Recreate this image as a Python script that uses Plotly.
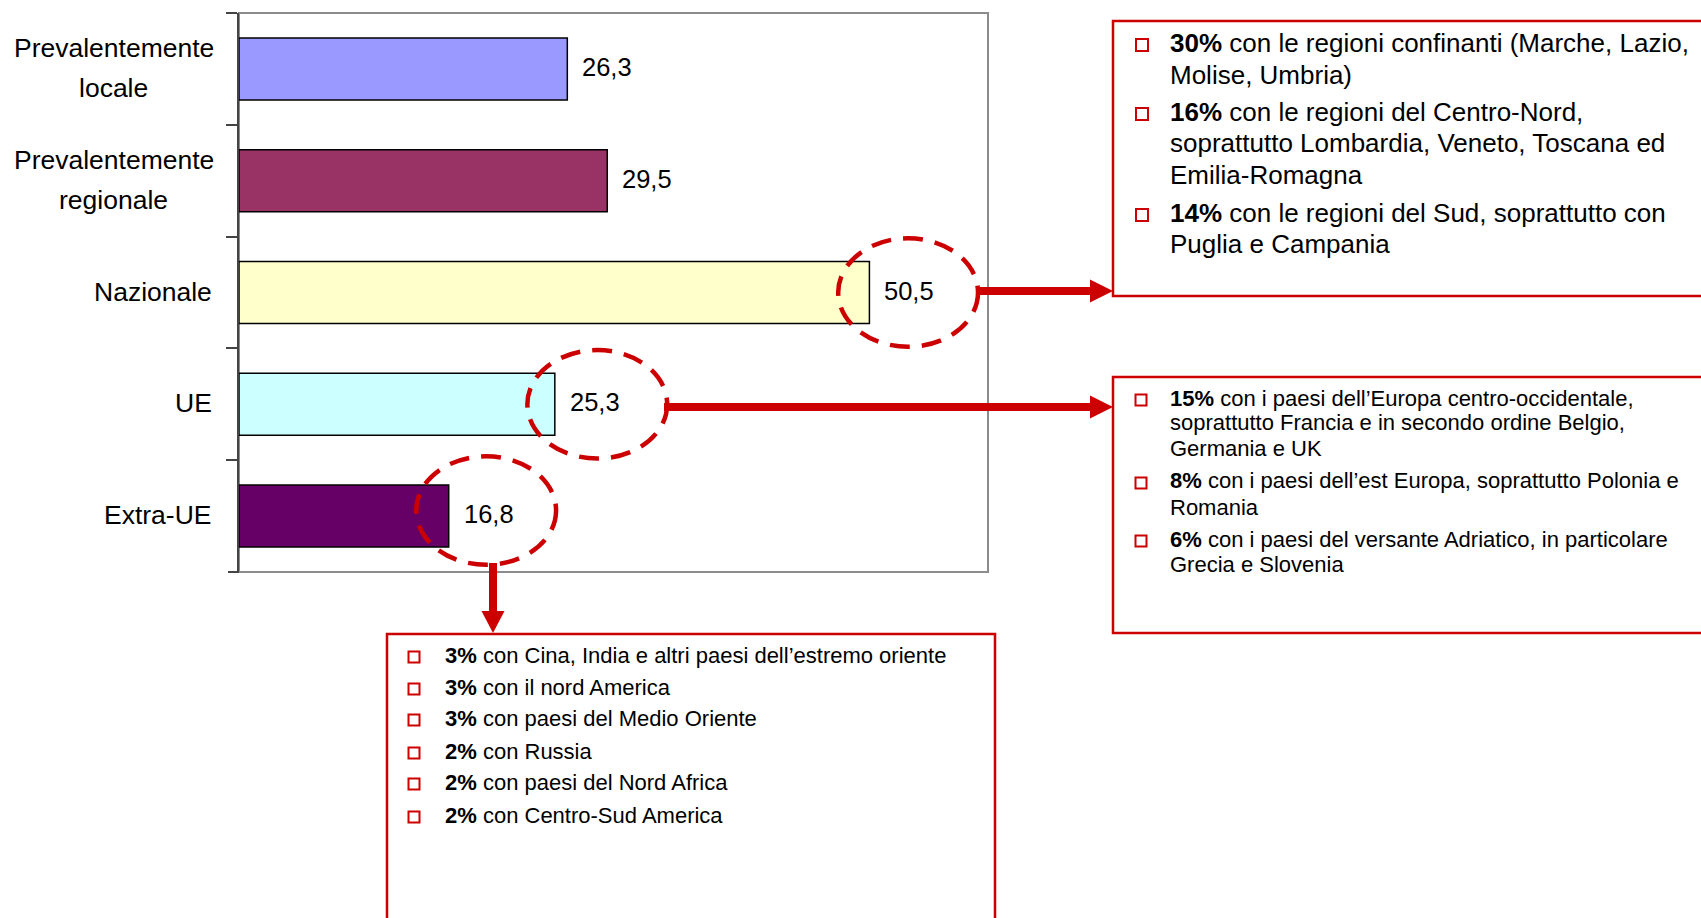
import plotly.graph_objects as go

# ---------------- data ----------------
categories = ["Prevalentemente<br>locale", "Prevalentemente<br>regionale", "Nazionale", "UE", "Extra-UE"]
values = [26.3, 29.5, 50.5, 25.3, 16.8]
bar_colors = ["#9999FF", "#993366", "#FFFFCC", "#CCFFFF", "#660066"]

box_nazionale = [
    ["<b>30%</b> con le regioni confinanti (Marche, Lazio,", "Molise, Umbria)"],
    ["<b>16%</b> con le regioni del Centro-Nord,", "soprattutto Lombardia, Veneto, Toscana ed", "Emilia-Romagna"],
    ["<b>14%</b> con le regioni del Sud, soprattutto con", "Puglia e Campania"],
]
box_ue = [
    ["<b>15%</b> con i paesi dell\u2019Europa centro-occidentale,", "soprattutto Francia e in secondo ordine Belgio,", "Germania e UK"],
    ["<b>8%</b> con i paesi dell\u2019est Europa, soprattutto Polonia e", "Romania"],
    ["<b>6%</b> con i paesi del versante Adriatico, in particolare", "Grecia e Slovenia"],
]
box_extra = [
    ["<b>3%</b> con Cina, India e altri paesi dell\u2019estremo oriente"],
    ["<b>3%</b> con il nord America"],
    ["<b>3%</b> con paesi del Medio Oriente"],
    ["<b>2%</b> con Russia"],
    ["<b>2%</b> con paesi del Nord Africa"],
    ["<b>2%</b> con Centro-Sud America"],
]

# ---------------- layout helpers ----------------
W, H = 1701, 918
L, R, T, B = 239, 988, 13, 572
FONT = "Liberation Sans, Arial, sans-serif"
RED = "#CC0000"


def px(x):
    return (x - L) / (R - L)


def py(y):
    return (B - y) / (B - T)


fig = go.Figure()
fig.add_trace(go.Bar(
    y=categories, x=values, orientation="h",
    marker=dict(color=bar_colors, line=dict(color="black", width=1.5)),
    hoverinfo="skip",
))

annotations = []
shapes = []

# category labels (each line centred, block right-aligned)
for i, c in enumerate(categories):
    lines = c.split("<br>")
    n = len(lines)
    for j, ln in enumerate(lines):
        annotations.append(dict(
            xref="paper", yref="y", x=px(214), y=i, text=ln, showarrow=False,
            xanchor="center" if n > 1 else "right", yanchor="middle", align="center",
            xshift=-100.5 if n > 1 else 0,
            yshift=-(j - (n - 1) / 2) * 40 + 1,
            font=dict(family=FONT, size=26.5, color="black"),
        ))

# value labels
for i, v in enumerate(values):
    annotations.append(dict(
        xref="x", yref="y", x=v, y=i, text=f"{v:.1f}".replace(".", ","),
        showarrow=False, xanchor="left", yanchor="middle", xshift=13, yshift=2,
        font=dict(family=FONT, size=25.5, color="black"),
    ))

# plot frame
shapes.append(dict(type="rect", xref="paper", yref="paper", x0=0, x1=1, y0=0, y1=1,
                   line=dict(color="#8c8c8c", width=2), layer="below"))
# bottom boundary tick
shapes.append(dict(type="line", xref="paper", yref="paper", x0=px(228), x1=px(239), y0=0, y1=0,
                   line=dict(color="#444444", width=2)))

# dashed ellipses around values of Nazionale, UE, Extra-UE
circ = [(2, 3.1, 0.0), (3, 3.4, 0.0), (4, 3.0, -0.05)]
for idx, dx, dy in circ:
    cx = values[idx] + dx
    cy = idx + dy
    shapes.append(dict(type="circle", xref="x", yref="y",
                       x0=cx - 5.6, x1=cx + 5.6, y0=cy - 0.485, y1=cy + 0.485,
                       line=dict(color=RED, width=4.5, dash="20px,12px")))


def arrow_h(x0, x1, y):
    shapes.append(dict(type="line", xref="paper", yref="paper",
                       x0=px(x0), x1=px(x1 - 22), y0=py(y), y1=py(y),
                       line=dict(color=RED, width=8)))
    shapes.append(dict(type="path", xref="paper", yref="paper",
                       path=f"M {px(x1-23)} {py(y-11.5)} L {px(x1)} {py(y)} L {px(x1-23)} {py(y+11.5)} Z",
                       fillcolor=RED, line=dict(color=RED, width=0)))


def arrow_v(x, y0, y1):
    shapes.append(dict(type="line", xref="paper", yref="paper",
                       x0=px(x), x1=px(x), y0=py(y0), y1=py(y1 - 21),
                       line=dict(color=RED, width=8)))
    shapes.append(dict(type="path", xref="paper", yref="paper",
                       path=f"M {px(x-11.5)} {py(y1-22)} L {px(x)} {py(y1)} L {px(x+11.5)} {py(y1-22)} Z",
                       fillcolor=RED, line=dict(color=RED, width=0)))


arrow_h(977, 1113, 291)
arrow_h(664, 1113, 407)
arrow_v(493, 563, 633)


def box(x0, y0, x1, y1):
    shapes.append(dict(type="rect", xref="paper", yref="paper",
                       x0=px(x0), x1=px(x1), y0=py(y0), y1=py(y1),
                       line=dict(color=RED, width=2.5)))


box(1113, 21, 1720, 296)
box(1113, 377, 1720, 633)
box(387, 634, 995, 930)


def bullet(x, y, s):
    shapes.append(dict(type="rect", xref="paper", yref="paper",
                       x0=px(x - s / 2), x1=px(x + s / 2), y0=py(y - s / 2), y1=py(y + s / 2),
                       line=dict(color=RED, width=2), fillcolor="white"))


def text_block(items, line_ys, text_x, bullet_x, size, bsize):
    k = 0
    for item in items:
        for j, line in enumerate(item):
            y = line_ys[k]
            if j == 0:
                bullet(bullet_x, y + 2, bsize)
            annotations.append(dict(
                xref="paper", yref="paper", x=px(text_x), y=py(y), text=line,
                showarrow=False, xanchor="left", yanchor="middle", align="left",
                font=dict(family=FONT, size=size, color="black"),
            ))
            k += 1


text_block(box_nazionale, [43, 75, 112, 143, 175, 213, 244], 1168, 1142, 26, 12)
text_block(box_ue, [398, 423, 448, 481, 507, 539, 564], 1168, 1141, 22, 11)
text_block(box_extra, [655, 687, 718, 751, 782, 815], 443, 414, 22, 11)

fig.update_layout(
    width=W, height=H,
    margin=dict(l=L, r=W - R, t=T, b=H - B),
    plot_bgcolor="white", paper_bgcolor="white",
    showlegend=False, bargap=0.445,
    xaxis=dict(range=[0, 60], showgrid=False, zeroline=False, showticklabels=False,
               ticks="", showline=False, fixedrange=True),
    yaxis=dict(type="category", range=[4.5, -0.5], showgrid=False, zeroline=False,
               showticklabels=False, ticks="outside", tickson="boundaries", ticklen=11,
               tickwidth=2, tickcolor="#444444", showline=True, linecolor="#444444",
               linewidth=2, fixedrange=True),
    annotations=annotations,
    shapes=shapes,
)

fig.write_html("out.html")
